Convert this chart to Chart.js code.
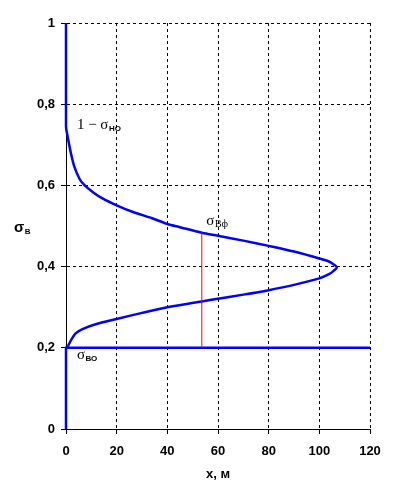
<!DOCTYPE html>
<html>
<head>
<meta charset="utf-8">
<script src="https://cdn.jsdelivr.net/npm/chart.js@4"></script>
<style>
  body { margin: 0; background: #fff; }
  #caixa { width: 395px; height: 499px; }
</style>
</head>
<body>
<div id="caixa"><canvas id="grafico"></canvas></div>
<script>
// curva sigma_B(x): sobe pelo eixo, ramo inferior, ponta, ramo superior, volta ao eixo
const curvaX = [0, 0, 0.7, 2, 3.9, 6.5, 11.7, 20, 30, 40, 53.6, 60, 70, 80, 90, 100, 104, 105.5, 106.9, 105.5, 104, 100, 90, 80, 70, 60, 53.6, 45, 40, 34, 26.2, 20, 14.4, 10.5, 7.2, 5.25, 3.3, 1.96, 0.66, 0, 0];
const curvaY = [0, 0.2, 0.204, 0.219, 0.236, 0.246, 0.258, 0.271, 0.286, 0.300, 0.314, 0.321, 0.331, 0.342, 0.355, 0.371, 0.382, 0.389, 0.398, 0.406, 0.412, 0.420, 0.437, 0.451, 0.464, 0.476, 0.4835, 0.497, 0.505, 0.519, 0.535, 0.551, 0.568, 0.584, 0.601, 0.617, 0.646, 0.679, 0.720, 0.745, 1];
const baseX = [0, 120];
const baseY = [0.2, 0.2];
const corteX = [53.6, 53.6];
const corteY = [0.2, 0.4835];
const ticksX = [0, 20, 40, 60, 80, 100, 120];
const ticksY = [0, 0.2, 0.4, 0.6, 0.8, 1];

function pares(xs, ys) {
  return xs.map((x, i) => ({ x: x, y: ys[i] }));
}

function virgula(v) {
  if (v === 0 || v === 1) return String(v);
  return v.toFixed(1).replace('.', ',');
}

const fonteTicks = { family: '"Liberation Sans", Arial', size: 13, weight: 'bold' };

const rotulos = {
  id: 'rotulos',
  afterDraw(chart) {
    const ctx = chart.ctx;
    const x = chart.scales.x, y = chart.scales.y;
    ctx.save();
    ctx.fillStyle = '#000';
    ctx.textBaseline = 'alphabetic';
    ctx.textAlign = 'left';

    function escrever(txt, fonte, sub, fonteSub, px, py) {
      ctx.font = fonte;
      ctx.fillText(txt, px, py);
      const w = ctx.measureText(txt).width;
      ctx.font = fonteSub;
      ctx.fillText(sub, px + w + 0.5, py + 2);
    }

    const serif = '15px "Liberation Serif", "Times New Roman"';
    const subSans = 'bold 8px "Liberation Sans", Arial';

    escrever('σ', 'bold 15px "Liberation Sans", Arial', 'В', subSans, 14, y.getPixelForValue(0.485));
    escrever('1 − σ', serif, 'НО', subSans, x.getPixelForValue(4.3), y.getPixelForValue(0.738));
    escrever('σ', serif, 'Вф', '10px "Liberation Serif", "Times New Roman"', x.getPixelForValue(55.4), y.getPixelForValue(0.502));
    escrever('σ', serif, 'ВО', subSans, x.getPixelForValue(4.3), y.getPixelForValue(0.173));
    ctx.restore();
  }
};

const grade = {
  color: '#000',
  tickBorderDash: [],
  tickLength: 5,
  tickColor: '#000'
};

new Chart(document.getElementById('grafico'), {
  type: 'scatter',
  data: {
    datasets: [
      {
        data: pares(corteX, corteY),
        showLine: true,
        borderColor: '#ff0000',
        borderWidth: 1,
        pointRadius: 0
      },
      {
        data: pares(baseX, baseY),
        showLine: true,
        borderColor: '#0000ff',
        borderWidth: 2.5,
        pointRadius: 0,
        clip: false
      },
      {
        data: pares(curvaX, curvaY),
        showLine: true,
        borderColor: '#0000ff',
        borderWidth: 2.5,
        pointRadius: 0,
        tension: 0.3,
        clip: false
      }
    ]
  },
  options: {
    responsive: true,
    maintainAspectRatio: false,
    animation: false,
    layout: { padding: { left: 0, right: 25, top: 23, bottom: 0 } },
    plugins: {
      legend: { display: false },
      tooltip: { enabled: false }
    },
    scales: {
      x: {
        type: 'linear',
        min: 0,
        max: 120,
        afterBuildTicks: s => { s.ticks = ticksX.map(v => ({ value: v })); },
        afterFit: s => { s.height = 70; },
        border: { color: '#000', width: 1, dash: [3, 3] },
        grid: grade,
        ticks: { color: '#000', font: fonteTicks, padding: 10, maxRotation: 0 },
        title: {
          display: true,
          text: 'x, м',
          color: '#000',
          font: { family: '"Liberation Sans", Arial', size: 13, weight: 'bold' },
          padding: { top: 0, bottom: 17 }
        }
      },
      y: {
        type: 'linear',
        min: 0,
        max: 1,
        afterBuildTicks: s => { s.ticks = ticksY.map(v => ({ value: v })); },
        afterFit: s => { s.width = 66; },
        border: { color: '#000', width: 1, dash: [3, 3] },
        grid: grade,
        ticks: { color: '#000', font: fonteTicks, padding: 6, callback: v => virgula(v) }
      }
    }
  },
  plugins: [rotulos]
});
</script>
</body>
</html>
